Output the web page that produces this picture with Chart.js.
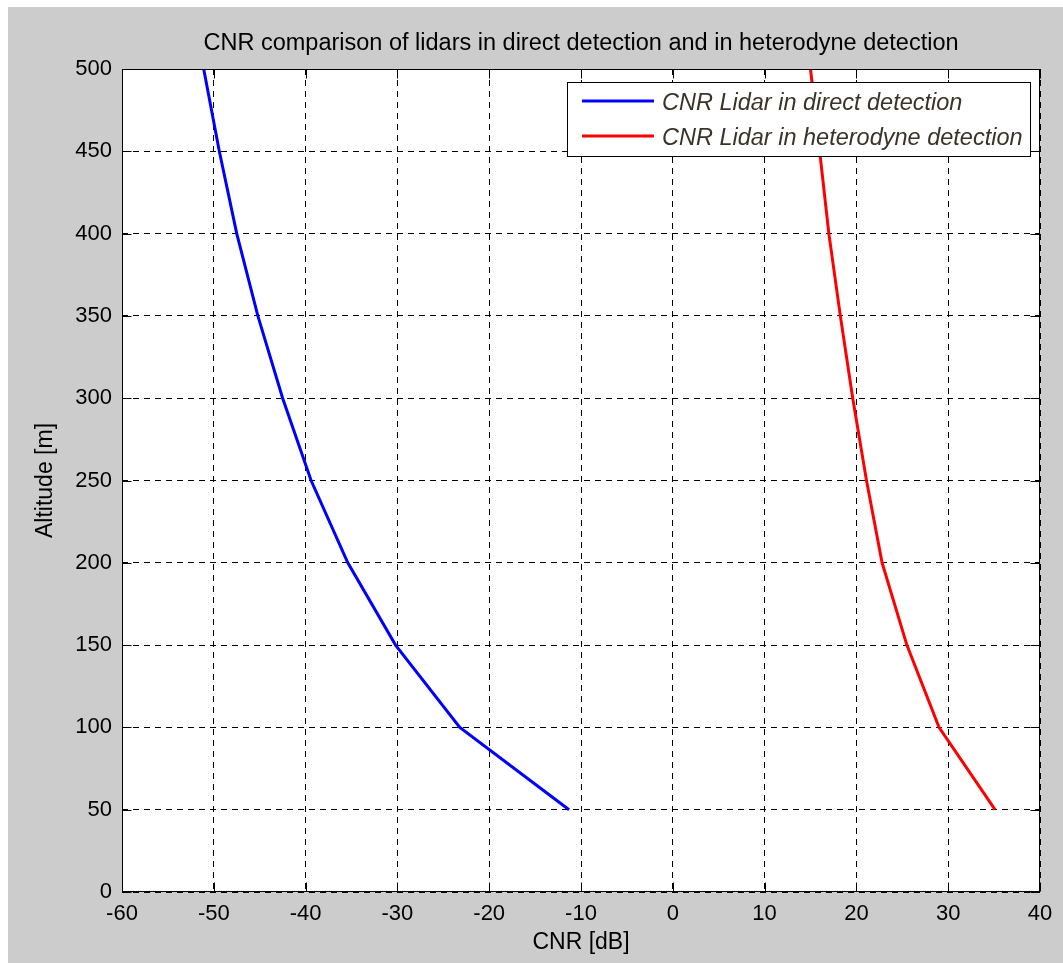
<!DOCTYPE html>
<html>
<head>
<meta charset="utf-8">
<script src="https://cdn.jsdelivr.net/npm/chart.js@4.4.1/dist/chart.umd.min.js"></script>
<style>
html,body{margin:0;padding:0;background:#ffffff;}
#wrap{position:absolute;left:0;top:0;width:1063px;height:963px;}
</style>
</head>
<body>
<div id="wrap"><canvas id="c" width="1063" height="963"></canvas></div>
<script>
// ---- data ----
const altitude = [50, 100, 150, 200, 250, 300, 350, 400, 450, 500];
const cnrDirect = [-11.3, -23.2, -30.2, -35.4, -39.4, -42.5, -45.2, -47.5, -49.4, -51.1];
const cnrHeterodyne = [35.1, 29.0, 25.5, 22.8, 21.1, 19.6, 18.25, 17.0, 16.0, 15.0];
const xTickValues = [-60, -50, -40, -30, -20, -10, 0, 10, 20, 30, 40];
const yTickValues = [0, 50, 100, 150, 200, 250, 300, 350, 400, 450, 500];
const seriesNames = ['CNR Lidar in direct detection', 'CNR Lidar in heterodyne detection'];
const chartTitle = 'CNR comparison of lidars in direct detection and in heterodyne detection';
const xAxisTitle = 'CNR [dB]';
const yAxisTitle = 'Altitude [m]';

const FONT = "'Liberation Sans', Arial, Helvetica, sans-serif";

function toPoints(xs, ys) { return xs.map((x, i) => ({ x: x, y: ys[i] })); }

const backgroundPlugin = {
  id: 'matlabBg',
  beforeDraw(chart) {
    const ctx = chart.ctx, a = chart.chartArea;
    ctx.save();
    ctx.fillStyle = '#ffffff';
    ctx.fillRect(0, 0, chart.width, chart.height);
    ctx.fillStyle = '#cccccc';
    ctx.fillRect(8, 7, chart.width - 8, chart.height - 7);
    ctx.fillStyle = '#ffffff';
    ctx.fillRect(a.left, a.top, a.right - a.left, a.bottom - a.top);
    ctx.restore();
  }
};

const framePlugin = {
  id: 'matlabFrame',
  afterDatasetsDraw(chart) {
    const ctx = chart.ctx, a = chart.chartArea;
    const xs = chart.scales.x, ys = chart.scales.y;
    const L = Math.round(a.left) + 0.5, R = Math.round(a.right) - 0.5;
    const T = Math.round(a.top) + 0.5, B = Math.round(a.bottom) - 0.5;
    const tl = 9;
    ctx.save();
    ctx.strokeStyle = '#000000';
    ctx.lineWidth = 1;
    ctx.setLineDash([]);
    ctx.beginPath();
    xTickValues.forEach(v => {
      const px = Math.round(xs.getPixelForValue(v)) + 0.5;
      ctx.moveTo(px, B); ctx.lineTo(px, B - tl);
      ctx.moveTo(px, T); ctx.lineTo(px, T + tl);
    });
    yTickValues.forEach(v => {
      const py = Math.round(ys.getPixelForValue(v)) + 0.5;
      ctx.moveTo(L, py); ctx.lineTo(L + tl, py);
      ctx.moveTo(R, py); ctx.lineTo(R - tl, py);
    });
    ctx.stroke();
    ctx.strokeRect(L, T, R - L, B - T);
    ctx.restore();
  },
  afterDraw(chart) {
    // legend box (MATLAB style, inside the axes, top right)
    const ctx = chart.ctx;
    const bx = 567.5, by = 82.5, bw = 463, bh = 74;
    ctx.save();
    ctx.fillStyle = '#ffffff';
    ctx.fillRect(bx, by, bw, bh);
    ctx.strokeStyle = '#000000';
    ctx.lineWidth = 1;
    ctx.strokeRect(bx, by, bw, bh);
    const rows = [101, 136];
    chart.data.datasets.forEach((ds, i) => {
      const y = rows[i];
      ctx.strokeStyle = ds.borderColor;
      ctx.lineWidth = ds.borderWidth;
      ctx.beginPath();
      ctx.moveTo(582, y); ctx.lineTo(654, y);
      ctx.stroke();
      ctx.fillStyle = '#3a3328';
      ctx.font = "italic 23.5px " + FONT;
      ctx.textAlign = 'left';
      ctx.textBaseline = 'middle';
      ctx.fillText(ds.label, 662, y + 2);
    });
    ctx.restore();
  }
};

new Chart(document.getElementById('c'), {
  type: 'scatter',
  data: {
    datasets: [
      {
        label: seriesNames[0],
        data: toPoints(cnrDirect, altitude),
        showLine: true,
        borderColor: '#0000ff',
        backgroundColor: '#0000ff',
        borderWidth: 3,
        pointRadius: 0,
        tension: 0
      },
      {
        label: seriesNames[1],
        data: toPoints(cnrHeterodyne, altitude),
        showLine: true,
        borderColor: '#ff0000',
        backgroundColor: '#ff0000',
        borderWidth: 3,
        pointRadius: 0,
        tension: 0
      }
    ]
  },
  options: {
    responsive: false,
    animation: false,
    devicePixelRatio: 1,
    layout: { padding: { left: 0, right: 23, top: 0, bottom: 0 } },
    plugins: {
      legend: { display: false },
      tooltip: { enabled: false },
      title: {
        display: true,
        fullSize: false,
        text: chartTitle,
        color: '#000000',
        font: { family: FONT, size: 23.5, weight: 'normal', lineHeight: 1.2 },
        padding: { top: 29, bottom: 11.8 }
      }
    },
    scales: {
      x: {
        type: 'linear',
        min: -60, max: 40,
        afterBuildTicks: s => { s.ticks = xTickValues.map(v => ({ value: v })); },
        afterFit: s => { s.height = 71; },
        grid: { color: '#000000', lineWidth: 1, drawTicks: false },
        border: { display: false, dash: [6, 5] },
        ticks: { color: '#000000', font: { family: FONT, size: 22 }, padding: 9, maxRotation: 0, autoSkip: false },
        title: { display: true, text: xAxisTitle, color: '#000000',
                 font: { family: FONT, size: 23, lineHeight: 1.2 }, padding: { top: 0, bottom: 7 } }
      },
      y: {
        type: 'linear',
        min: 0, max: 500,
        afterBuildTicks: s => { s.ticks = yTickValues.map(v => ({ value: v })); },
        afterFit: s => { s.width = 122; },
        grid: { color: '#000000', lineWidth: 1, drawTicks: false },
        border: { display: false, dash: [6, 5] },
        ticks: { color: '#000000', font: { family: FONT, size: 22 }, padding: 10, autoSkip: false },
        title: { display: true, text: yAxisTitle, color: '#000000',
                 font: { family: FONT, size: 23, lineHeight: 1.2 }, padding: { top: 32, bottom: 0 } }
      }
    }
  },
  plugins: [backgroundPlugin, framePlugin]
});
</script>
</body>
</html>
